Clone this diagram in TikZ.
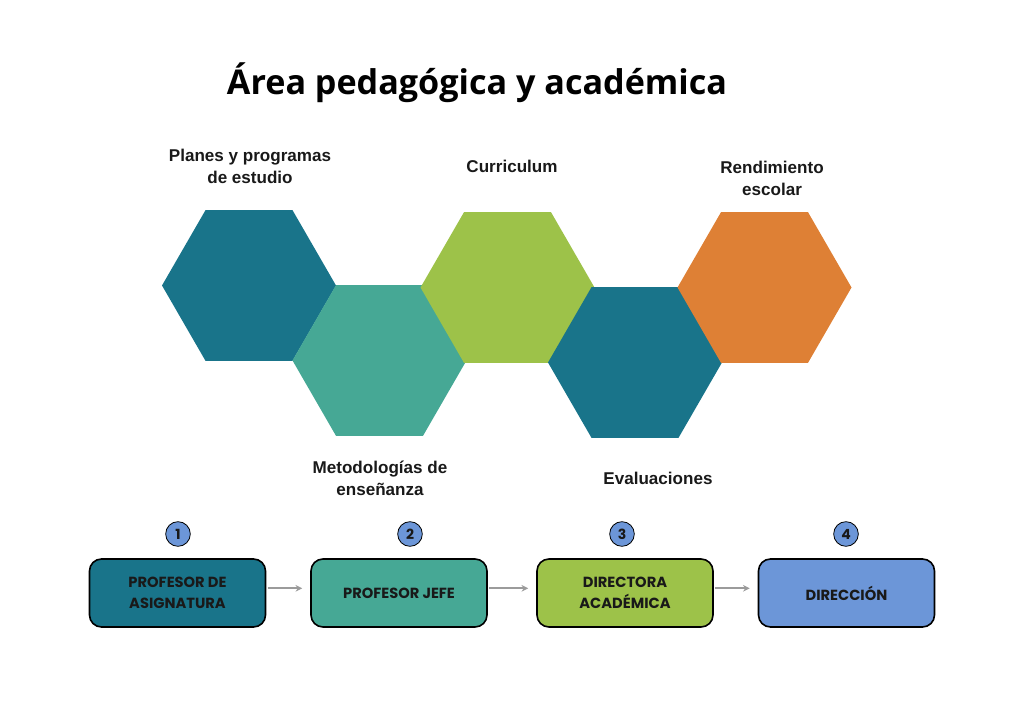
\documentclass[tikz,border=0pt]{standalone}
\usepackage{fontspec}
\setmainfont{Liberation Sans}
\newfontfamily\titlefont{Open Sans}
\newfontfamily\boxfont{Poppins}
\usepackage{tikz}
\usetikzlibrary{shapes, shapes.geometric, arrows.meta, positioning, calc}

\definecolor{hexdark}{RGB}{25, 116, 138}
\definecolor{hexteal}{RGB}{70, 168, 149}
\definecolor{hexgreen}{RGB}{157, 194, 73}
\definecolor{hexorange}{RGB}{222, 128, 53}
\definecolor{stepblue}{RGB}{108, 150, 216}
\definecolor{arrowgray}{RGB}{155, 155, 155}
\definecolor{inkdark}{RGB}{25, 25, 25}

\tikzset{
  hexa/.style={regular polygon, regular polygon sides=6, minimum size=130.5pt, inner sep=0pt, outer sep=0pt, draw=none, fill=#1},
  hexlabel/.style={align=center, text=inkdark, font=\fontsize{12.8}{16.5}\selectfont\bfseries},
  stagebox/.style={draw=black, line width=1.2pt, fill=#1, rounded corners=9pt, minimum width=132pt, minimum height=51pt, align=center, text=inkdark, font=\boxfont\fontsize{11}{15.5}\selectfont\bfseries},
  stepnum/.style={circle, draw=black, line width=0.6pt, fill=stepblue, minimum size=18.5pt, inner sep=0pt, text=inkdark, font=\boxfont\fontsize{10.5}{12}\selectfont\bfseries},
  flowarrow/.style={-{Stealth[length=5pt, width=5pt]}, line width=1.3pt, arrowgray}
}

\begin{document}
\begin{tikzpicture}[x=0.75pt, y=0.75pt]
  \useasboundingbox (0,0) rectangle (1024,724);

  % Title
  \node[font=\titlefont\fontsize{25.6}{28}\selectfont\bfseries] (title) at (477, 641) {Área pedagógica y académica};

  % Hexagons
  \node[hexa=hexdark] (planes) at (249, 438.5) {};
  \node[hexa=hexteal] (metodo) at (379.5, 363.5) {};
  \node[hexa=hexgreen] (curric) at (507.5, 436.5) {};
  \node[hexa=hexdark] (evalu) at (635, 361.5) {};
  \node[hexa=hexorange] (rendim) at (764.5, 436.5) {};

  % Labels
  \node[hexlabel] (lplanes) at (250, 558) {Planes y programas\\de estudio};
  \node[hexlabel] (lcurric) at (512, 558) {Curriculum};
  \node[hexlabel] (lrendim) at (772, 546) {Rendimiento\\escolar};
  \node[hexlabel] (lmetodo) at (380, 246) {Metodologías de\\enseñanza};
  \node[hexlabel] (levalu) at (658, 246) {Evaluaciones};

  % Steps
  \node[stagebox=hexdark] (profasig) at (177.5, 131) {PROFESOR DE\\ASIGNATURA};
  \node[stagebox=hexteal] (profjefe) at (399, 131) {PROFESOR JEFE};
  \node[stagebox=hexgreen] (dirac) at (625, 131) {DIRECTORA\\ACADÉMICA};
  \node[stagebox=stepblue] (direccion) at (846.5, 131) {DIRECCIÓN};

  % Numbers
  \node[stepnum] (n1) at (178, 190) {1};
  \node[stepnum] (n2) at (410, 190) {2};
  \node[stepnum] (n3) at (622, 190) {3};
  \node[stepnum] (n4) at (846, 190) {4};

  % Arrows
  \draw[flowarrow] ([xshift=1pt, yshift=3.5pt]profasig.east) -- ([xshift=-6pt, yshift=3.5pt]profjefe.west);
  \draw[flowarrow] ([xshift=1pt, yshift=3.5pt]profjefe.east) -- ([xshift=-6pt, yshift=3.5pt]dirac.west);
  \draw[flowarrow] ([xshift=1pt, yshift=3.5pt]dirac.east) -- ([xshift=-6pt, yshift=3.5pt]direccion.west);
\end{tikzpicture}
\end{document}
